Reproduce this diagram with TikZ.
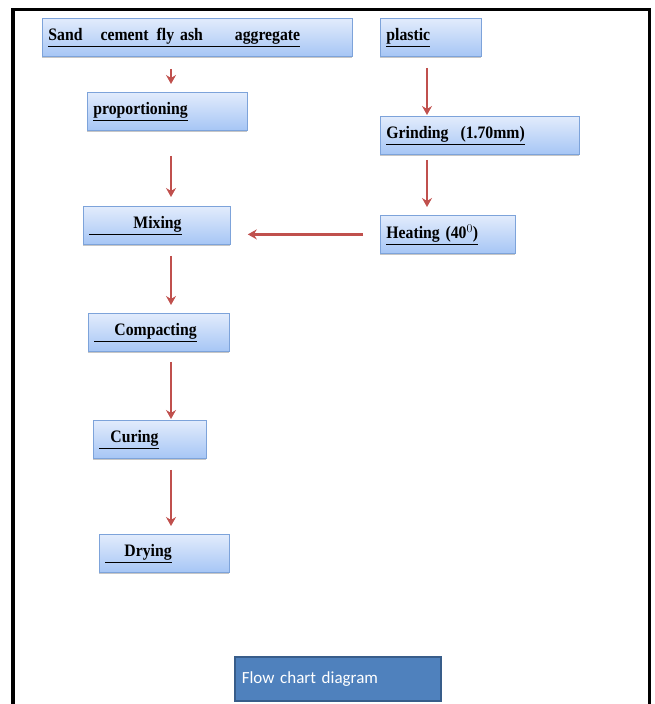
\documentclass[tikz,border=0pt]{standalone}
\usepackage{fontspec}
\setmainfont{Liberation Serif}
\newfontfamily\boxfont[FakeStretch=0.9]{Liberation Serif}
\newfontfamily\calibri{Carlito}
\usetikzlibrary{arrows.meta, shadows}

\definecolor{boxtop}{RGB}{226,236,252}
\definecolor{boxbot}{RGB}{166,198,245}
\definecolor{boxline}{RGB}{125,163,218}
\definecolor{arrowred}{RGB}{192,80,77}
\definecolor{titlefill}{RGB}{79,129,189}
\definecolor{titleline}{RGB}{56,93,138}

\newcommand{\ulbox}[2][0pt]{\underline{\hspace*{#1}#2}}

\tikzset{
  stepbox/.style={draw=boxline, line width=0.8pt, top color=boxtop, bottom color=boxbot,
    anchor=north west, inner xsep=6pt, inner ysep=0pt, minimum height=38pt,
    text width=#1-12pt, align=left, font=\boxfont\fontsize{17.5}{18}\selectfont\bfseries,
    drop shadow={shadow xshift=0pt, shadow yshift=-1.5pt, opacity=0.45}},
  flow/.style={draw=arrowred, line width=2.5pt, -{Stealth[length=9pt, width=10pt, inset=3pt]}},
}

\begin{document}
\begin{tikzpicture}[x=1pt, y=-1pt]
            \useasboundingbox (0,0) rectangle (654,704);
            % outer frame
            \draw[line width=4pt] (12.5,704) -- (12.5,9);
            \draw[line width=3pt] (11,9) -- (649,9) -- (649,704);

            % left column
            \node[stepbox=310pt] (sand) at (42,18) {\ulbox{Sand\hspace{18pt}cement\hspace{8pt}fly\hspace{6pt}ash\hspace{32pt}aggregate}};
            \node[stepbox=160pt] (prop) at (87,92) {\ulbox{proportioning}};
            \node[stepbox=147pt] (mix) at (83,206) {\ulbox[44pt]{Mixing}};
            \node[stepbox=141pt] (comp) at (88,313) {\ulbox[20pt]{Compacting}};
            \node[stepbox=113pt] (cure) at (93,420) {\ulbox[11pt]{Curing}};
            \node[stepbox=130pt] (dry) at (99,534) {\ulbox[19pt]{Drying}};

            % right column
            \node[stepbox=101pt] (plast) at (380,18) {\ulbox{plastic}};
            \node[stepbox=199pt] (grind) at (380,116) {\ulbox{Grinding\hspace{12pt}(1.70mm)}};
            \node[stepbox=135pt] (heat) at (380,215) {\ulbox{Heating (40$^{0}$)}};

            % caption
            \node[draw=titleline, line width=1.5pt, fill=titlefill, anchor=north west,
              minimum width=206pt, minimum height=44pt, inner xsep=7pt, text width=192pt,
              align=left, text=white, font=\calibri\fontsize{17}{18}\selectfont] (title) at (234,656) {Flow chart diagram};

            \coordinate (lcol) at (171,0);
            \coordinate (rcol) at (427,0);

            \draw[flow, shorten <=12pt, shorten >=8pt] (sand.south -| lcol) -- (prop.north -| lcol);
            \draw[flow, shorten <=25pt, shorten >=9pt] (prop.south -| lcol) -- (mix.north -| lcol);
            \draw[flow, shorten <=11pt, shorten >=8pt] (mix.south -| lcol) -- (comp.north -| lcol);
            \draw[flow, shorten <=10pt, shorten >=1pt] (comp.south -| lcol) -- (cure.north -| lcol);
            \draw[flow, shorten <=11pt, shorten >=8pt] (cure.south -| lcol) -- (dry.north -| lcol);

            \draw[flow, shorten <=11pt, shorten >=1pt] (plast.south -| rcol) -- (grind.north -| rcol);
            \draw[flow, shorten <=5pt, shorten >=8pt] (grind.south -| rcol) -- (heat.north -| rcol);
            \draw[flow, shorten <=17pt, shorten >=17pt] (heat.west) -- (heat.west -| mix.east);
        \end{tikzpicture}
\end{document}
